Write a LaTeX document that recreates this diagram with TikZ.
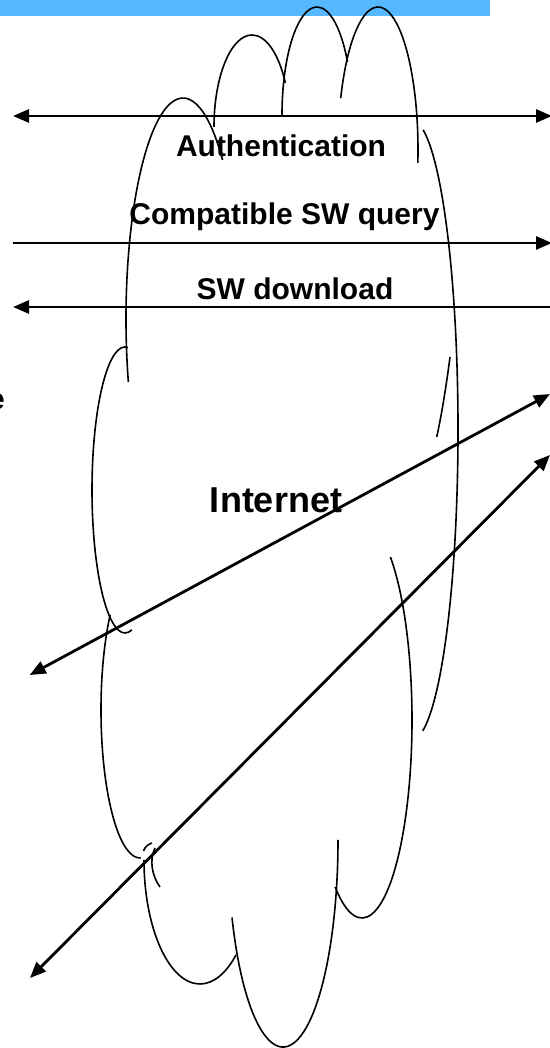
\documentclass[tikz,border=0pt]{standalone}
\usepackage{fontspec}
\setmainfont{Liberation Sans}
\usetikzlibrary{arrows.meta}
\definecolor{barblue}{RGB}{86,184,255}
\tikzset{
  cloudline/.style = 	{draw, line width=1.6pt},
  msg/.style = 	{draw, line width=2.8pt,
				>={Triangle[length=16pt,width=13pt]}},
  lbl/.style = 	{anchor=base, inner sep=0pt,
				font=\bfseries\fontsize{30}{36}\selectfont},
  biglbl/.style = 	{lbl, font=\bfseries\fontsize{36}{43}\selectfont},
}
\begin{document}
\begin{tikzpicture}
	[
		x = 1pt,
		y = 1pt
	]
	\useasboundingbox (0,0) rectangle (549,1048);
	\fill[barblue] (0,1032) rectangle (490,1048);

	% cloud
	\foreach \cx/\cy/\rx/\ry/\sa/\ea in {
		183/729/57/221/196.6/46,
		252/921/38/92/180/28.6,
		317/933/35/108/180/29.4,
		378/898/40/143/158.7/-5.2,
		411.5/618/46.5/310/75.5/-76,
		362/328/50/198/55.4/-122.5,
		283/208/55/207/202/360,
		200/188/56/124/180/310,
		140/338/39/148/140/271,
		125/558/33/143/85/282}
		\draw[cloudline] (\cx,\cy) ++(\sa:\rx pt and \ry pt)
			arc[start angle=\sa, end angle=\ea, x radius=\rx pt, y radius=\ry pt];
	\draw[cloudline] (450,691) .. controls (446,660) and (441,630) .. (436.7,611);
	\draw[cloudline] (143.5,197) to[bend left=25] (152,205);
	\draw[cloudline] (155,200) .. controls (149,188) and (152,172) .. (160,161);

	% labels
	\node[lbl] (auth) at (281,891) {Authentication};
	\node[lbl] (query) at (284.5,823) {Compatible SW query};
	\node[lbl] (dload) at (295,748) {SW download};
	\node[biglbl] (inet) at (276,535) {Internet};
	\node[lbl, anchor=base east] (cut) at (5,638) {e};

	% messages
	\coordinate (authL) at (13,932);
	\coordinate (authR) at (552,932);
	\coordinate (queryL) at (13,805);
	\coordinate (queryR) at (552,805);
	\coordinate (dloadL) at (13,741);
	\coordinate (dloadR) at (552,741);
	\coordinate (diagAR) at (550,654);
	\coordinate (diagAL) at (29.7,373);
	\coordinate (diagBR) at (550,593);
	\coordinate (diagBL) at (30,70);
	\draw[msg, <->] (authL) -- (authR);
	\draw[msg, ->] (queryL) -- (queryR);
	\draw[msg, ->] (dloadR) -- (dloadL);
	\draw[msg, <->] (diagAL) -- (diagAR);
	\draw[msg, <->] (diagBL) -- (diagBR);
\end{tikzpicture}
\end{document}
